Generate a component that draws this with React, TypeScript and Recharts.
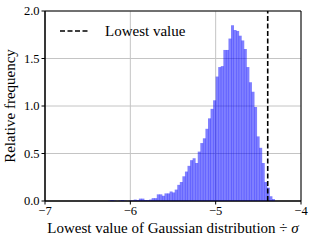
import {
  Bar,
  BarChart,
  CartesianGrid,
  Legend,
  ReferenceArea,
  ReferenceLine,
  XAxis,
  YAxis,
} from "recharts";

// histogram bin centres (width 0.03) and relative frequencies
const binCenters = [
  -6.245, -6.215, -6.185, -6.155, -6.125, -6.095, -6.065, -6.035, -6.005,
  -5.975, -5.945, -5.915, -5.885, -5.855, -5.825, -5.795, -5.765, -5.735,
  -5.705, -5.675, -5.645, -5.615, -5.585, -5.555, -5.525, -5.495, -5.465,
  -5.435, -5.405, -5.375, -5.345, -5.315, -5.285, -5.255, -5.225, -5.195,
  -5.165, -5.135, -5.105, -5.075, -5.045, -5.015, -4.985, -4.955, -4.925,
  -4.895, -4.865, -4.835, -4.805, -4.775, -4.745, -4.715, -4.685, -4.655,
  -4.625, -4.595, -4.565, -4.535, -4.505, -4.475, -4.445, -4.415, -4.385,
  -4.355, -4.325,
];
const frequencies = [
  0.005, 0.01, 0.005, 0, 0.005, 0.01, 0.005, 0, 0.005,
  0.005, 0.015, 0.01, 0.025, 0.025, 0.01, 0.01, 0.015, 0.03,
  0.03, 0.07, 0.07, 0.055, 0.08, 0.08, 0.1, 0.09, 0.12,
  0.17, 0.2, 0.26, 0.31, 0.37, 0.43, 0.45, 0.4, 0.52,
  0.61, 0.66, 0.76, 0.87, 0.97, 1.06, 1.31, 1.41, 1.42,
  1.59, 1.59, 1.71, 1.85, 1.8, 1.79, 1.74, 1.69, 1.6,
  1.41, 1.25, 1.15, 0.99, 0.68, 0.56, 0.4, 0.2, 0.14,
  0.05, 0.02,
];
const xTicks = [-7, -6, -5, -4];
const yTicks = [0, 0.5, 1, 1.5, 2];
const lowestValue = -4.39;
const legendLabel = "Lowest value";

const FONT = '"Liberation Serif", "DejaVu Serif", serif';
const TITLE_SIZE = 15;
const TICK_SIZE = 12.5;

const data = binCenters.map((x, i) => ({ x, freq: frequencies[i] }));

const minus = (v: number) => String(v).replace("-", "\u2212");

function XTitle({ viewBox }: any) {
  const { x, y, width } = viewBox ?? {};
  return (
    <text
      x={x + width / 2}
      y={y + 32}
      textAnchor="middle"
      fontFamily={FONT}
      fontSize={TITLE_SIZE}
      fill="#000"
    >
      Lowest value of Gaussian distribution ÷ <tspan fontStyle="italic">σ</tspan>
    </text>
  );
}

function YTitle({ viewBox }: any) {
  const { y, height } = viewBox ?? {};
  const cx = 10;
  const cy = y + height / 2;
  return (
    <text
      x={cx}
      y={cy}
      transform={`rotate(-90, ${cx}, ${cy})`}
      textAnchor="middle"
      dominantBaseline="central"
      fontFamily={FONT}
      fontSize={TITLE_SIZE}
      fill="#000"
    >
      Relative frequency
    </text>
  );
}

function LegendBox() {
  return (
    <div
      style={{
        display: "flex",
        alignItems: "center",
        fontFamily: FONT,
        fontSize: TITLE_SIZE,
        lineHeight: "18px",
        whiteSpace: "nowrap",
      }}
    >
      <svg width={30} height={6} style={{ marginRight: 16 }}>
        <line x1={1} y1={3} x2={29} y2={3} stroke="#000" strokeWidth={1.6} strokeDasharray="5 2.5" />
      </svg>
      <span>{legendLabel}</span>
    </div>
  );
}

export default function App() {
  return (
    <div style={{ position: "absolute", left: 0, top: 0, background: "#fff" }}>
      <BarChart
        width={316}
        height={242}
        data={data}
        margin={{ top: 11, right: 15, left: 0, bottom: 0 }}
        barCategoryGap={0}
        barGap={0}
      >
        <CartesianGrid stroke="#c4c4c4" strokeWidth={1} />
        <XAxis
          dataKey="x"
          type="number"
          domain={[-7, -4]}
          ticks={xTicks}
          allowDataOverflow
          height={41}
          tickFormatter={minus}
          tick={{ fontFamily: FONT, fontSize: TICK_SIZE, fill: "#000" }}
          tickLine={{ stroke: "#000" }}
          tickSize={3.5}
          tickMargin={2}
          axisLine={{ stroke: "#000" }}
          label={<XTitle />}
        />
        <YAxis
          type="number"
          domain={[0, 2]}
          ticks={yTicks}
          width={45}
          tickFormatter={(v: number) => v.toFixed(1)}
          tick={{ fontFamily: FONT, fontSize: TICK_SIZE, fill: "#000" }}
          tickLine={{ stroke: "#000" }}
          tickSize={3.5}
          tickMargin={2}
          axisLine={{ stroke: "#000" }}
          label={<YTitle />}
        />
        <Bar dataKey="freq" fill="#0000ff" fillOpacity={0.5} isAnimationActive={false} />
        <ReferenceLine
          x={lowestValue}
          stroke="#000"
          strokeWidth={1.6}
          strokeDasharray="5 2.5"
        />
        <ReferenceArea x1={-7} x2={-4} y1={0} y2={2} fill="none" stroke="#000" strokeWidth={1} />
        <Legend
          layout="horizontal"
          verticalAlign="middle"
          align="center"
          content={<LegendBox />}
          wrapperStyle={{ position: "absolute", left: 59, top: 22, width: "auto", height: "auto" }}
        />
      </BarChart>
    </div>
  );
}
